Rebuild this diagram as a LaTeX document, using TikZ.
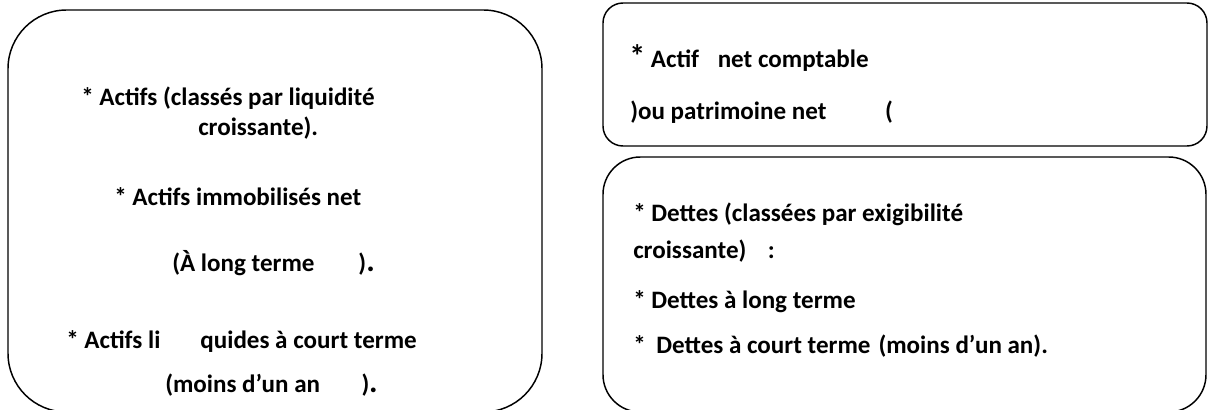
\documentclass[tikz,border=0pt]{standalone}
\usepackage{fontspec}
\setmainfont{Carlito}
\usepackage{tikz}

\begin{document}
\begin{tikzpicture}[x=0.75pt, y=-0.75pt,
  txt/.style={anchor=base west, inner sep=0pt, font=\bfseries\fontsize{18.8}{20}\selectfont},
  boxline/.style={black, line width=1.1pt}]
\useasboundingbox (0,0) rectangle (1208,410);
\clip (0,0) rectangle (1208,410);
% the three rounded frames
\draw[boxline, rounded corners=44pt] (8,10) rectangle (542,412);
\draw[boxline, rounded corners=15pt] (603,3) rectangle (1207,146);
\draw[boxline, rounded corners=28pt] (603,157) rectangle (1206,412);
% left frame
\node[txt] (actifs) at (81,106) {* Actifs (classés par liquidité};
\node[txt] (croiss) at (198,136) {croissante).};
\node[txt] (immo) at (114,205) {* Actifs immobilisés net};
\node[txt] (long) at (172,271) {(À long terme\hspace{33pt}){\fontsize{24}{24}\selectfont .}};
\node[txt] (liq) at (66,348) {* Actifs li\hspace{30pt}quides à court terme};
\node[txt] (moins) at (165,392) {(moins d’un an\hspace{31pt}){\fontsize{24}{24}\selectfont .}};
% right frames
\node[txt] (anc) at (629,68) {{\fontsize{24}{24}\selectfont *} Actif\hspace{14pt}net comptable};
\node[txt] (patri) at (630,120) {)ou patrimoine net\hspace{44pt}(};
\node[txt] (dettes) at (633,221) {* Dettes (classées par exigibilité};
\node[txt] (dcroiss) at (633,258) {croissante)\hspace{16pt}:};
\node[txt] (dlong) at (633,308) {* Dettes à long terme};
\node[txt] (dcourt) at (633,353) {*\hspace{8pt}Dettes à court terme\hspace{6pt}(moins d’un an).};
\end{tikzpicture}
\end{document}
